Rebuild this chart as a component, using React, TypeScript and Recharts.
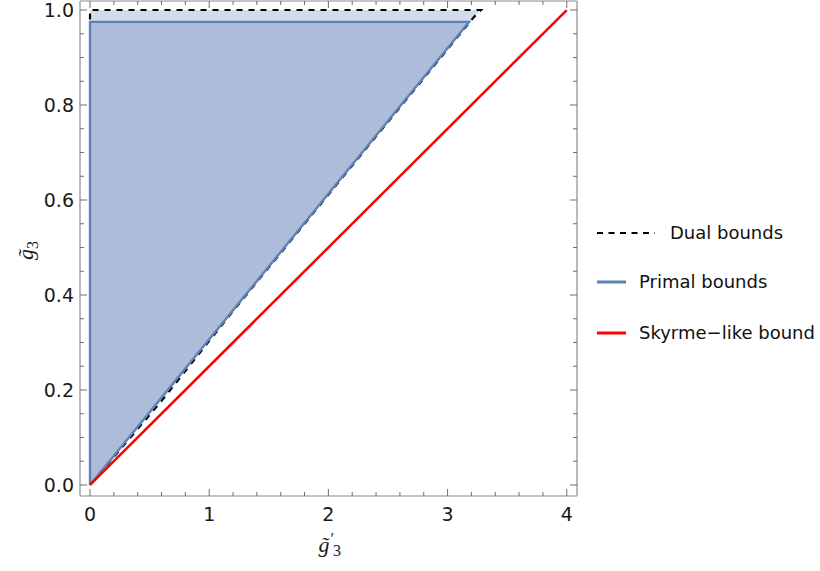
import React from 'react';
import { ComposedChart, Line, Area, XAxis, YAxis } from 'recharts';

// x values on the g3' axis, y values on the g3 axis
const xDomain = [-0.084, 4.086];
const yDomain = [-0.0232, 1.019];

const xMajorTicks = [0, 1, 2, 3, 4];
const xTicks = [0, 0.2, 0.4, 0.6, 0.8, 1, 1.2, 1.4, 1.6, 1.8, 2, 2.2, 2.4, 2.6, 2.8, 3, 3.2, 3.4, 3.6, 3.8, 4];
const yMajorTicks = [0, 0.2, 0.4, 0.6, 0.8, 1];
const yTicks = [0, 0.05, 0.1, 0.15, 0.2, 0.25, 0.3, 0.35, 0.4, 0.45, 0.5, 0.55, 0.6, 0.65, 0.7, 0.75, 0.8, 0.85, 0.9, 0.95, 1];

// dual bounds region (filled lightly) and its dashed outline
const dualRegion = [
  { x: 0, r: [0, 1] },
  { x: 0.6, r: [0.177, 1] },
  { x: 1.18, r: [0.36, 1] },
  { x: 3.22, r: [0.985, 1] },
  { x: 3.28, r: [1, 1] },
];
const dualOutline = [
  { x: 0, y: 0.98 },
  { x: 0, y: 1 },
  { x: 3.28, y: 1 },
  { x: 3.22, y: 0.985 },
  { x: 1.18, y: 0.36 },
  { x: 0.6, y: 0.177 },
  { x: 0, y: 0 },
];

// primal bounds triangle
const primalRegion = [
  { x: 0, r: [0, 0.975] },
  { x: 3.18, r: [0.975, 0.975] },
];
const primalOutline = [
  { x: 0, y: 0 },
  { x: 0, y: 0.975 },
  { x: 3.18, y: 0.975 },
  { x: 0, y: 0 },
];

// Skyrme-like bound
const skyrme = [
  { x: 0, y: 0 },
  { x: 4, y: 1 },
];

const FRAME = '#8c8c8c';
const TICK = '#6e6e6e';
const FONT = '"DejaVu Sans", sans-serif';

const BottomTick = (props: any) => {
  const { x, y, payload } = props;
  const major = xMajorTicks.includes(payload.value);
  return (
    <g>
      <line x1={x} y1={y} x2={x} y2={y - (major ? 7 : 4)} stroke={TICK} strokeWidth={1} />
      {major && (
        <text x={x} y={y + 25} textAnchor="middle" fontFamily={FONT} fontSize={19} fill="#1a1a1a">
          {payload.value}
        </text>
      )}
    </g>
  );
};

const TopTick = (props: any) => {
  const { x, y, payload } = props;
  const major = xMajorTicks.includes(payload.value);
  return <line x1={x} y1={y} x2={x} y2={y + (major ? 7 : 4)} stroke={TICK} strokeWidth={1} />;
};

const LeftTick = (props: any) => {
  const { x, y, payload } = props;
  const major = yMajorTicks.includes(payload.value);
  return (
    <g>
      <line x1={x} y1={y} x2={x + (major ? 7 : 4)} y2={y} stroke={TICK} strokeWidth={1} />
      {major && (
        <text x={x - 6} y={y + 7} textAnchor="end" fontFamily={FONT} fontSize={19} fill="#1a1a1a">
          {payload.value.toFixed(1)}
        </text>
      )}
    </g>
  );
};

const RightTick = (props: any) => {
  const { x, y, payload } = props;
  const major = yMajorTicks.includes(payload.value);
  return <line x1={x} y1={y} x2={x - (major ? 7 : 4)} y2={y} stroke={TICK} strokeWidth={1} />;
};

const XTitle = (props: any) => {
  const vb = props.viewBox;
  const cx = vb.x + vb.width / 2 - 10;
  return (
    <text x={cx} y={vb.y + 56} fontFamily='"Liberation Serif", serif' fontSize={22} fill="#1a1a1a">
      <tspan fontStyle="italic">g̃</tspan>
      <tspan dx={1} dy={-8} fontSize={16}>′</tspan>
      <tspan dx={-1} dy={12} fontSize={16}>3</tspan>
    </text>
  );
};

const YTitle = () => (
  <text
    x={0}
    y={0}
    transform="translate(33, 260) rotate(-90)"
    fontFamily='"Liberation Serif", serif'
    fontSize={22}
    fill="#1a1a1a"
  >
    <tspan fontStyle="italic">g̃</tspan>
    <tspan dy={5} fontSize={16}>3</tspan>
  </text>
);

const LegendRow = ({ color, dash, width, label, top, lineLen, textLeft }: any) => (
  <div style={{ position: 'absolute', left: 597, top: top - 12, height: 24, width: 230 }}>
    <svg width={lineLen} height={24} style={{ position: 'absolute', left: 0, top: 0 }}>
      <line x1={0} y1={12} x2={lineLen} y2={12} stroke={color} strokeWidth={width} strokeDasharray={dash} />
    </svg>
    <span
      style={{
        position: 'absolute',
        left: textLeft - 597,
        top: 0,
        lineHeight: '24px',
        fontFamily: FONT,
        fontSize: 18,
        color: '#111',
        whiteSpace: 'nowrap',
      }}
    >
      {label}
    </span>
  </div>
);

export default function App() {
  return (
    <div style={{ position: 'absolute', left: 0, top: 0, width: 820, height: 571, background: '#fff' }}>
      <ComposedChart width={820} height={571} margin={{ top: 0, right: 242, bottom: 74, left: 79 }}>
        <XAxis
          type="number"
          dataKey="x"
          domain={xDomain}
          allowDataOverflow
          ticks={xTicks}
          interval={0}
          height={1}
          tickSize={0}
          tickMargin={0}
          tickLine={false}
          tick={<BottomTick />}
          axisLine={{ stroke: FRAME, strokeWidth: 1.2 }}
          label={{ content: <XTitle /> }}
        />
        <XAxis
          xAxisId="top"
          orientation="top"
          type="number"
          dataKey="x"
          domain={xDomain}
          allowDataOverflow
          ticks={xTicks}
          interval={0}
          height={1}
          tickSize={0}
          tickMargin={0}
          tickLine={false}
          tick={<TopTick />}
          axisLine={{ stroke: FRAME, strokeWidth: 1.2 }}
        />
        <YAxis
          type="number"
          dataKey="y"
          domain={yDomain}
          allowDataOverflow
          ticks={yTicks}
          interval={0}
          width={1}
          tickSize={0}
          tickMargin={0}
          tickLine={false}
          tick={<LeftTick />}
          axisLine={{ stroke: FRAME, strokeWidth: 1.2 }}
        />
        <YAxis
          yAxisId="right"
          orientation="right"
          type="number"
          domain={yDomain}
          allowDataOverflow
          ticks={yTicks}
          interval={0}
          width={1}
          tickSize={0}
          tickMargin={0}
          tickLine={false}
          tick={<RightTick />}
          axisLine={{ stroke: FRAME, strokeWidth: 1.2 }}
        />
        <Area
          data={dualRegion}
          dataKey="r"
          type="linear"
          stroke="none"
          fill="#d3dcec"
          fillOpacity={1}
          isAnimationActive={false}
        />
        <Area
          data={primalRegion}
          dataKey="r"
          type="linear"
          stroke="none"
          fill="#adbdd9"
          fillOpacity={1}
          isAnimationActive={false}
        />
        <Line
          data={dualOutline}
          dataKey="y"
          type="linear"
          stroke="#000"
          strokeWidth={2.2}
          strokeDasharray="6 6"
          dot={false}
          isAnimationActive={false}
        />
        <Line
          data={primalOutline}
          dataKey="y"
          type="linear"
          stroke="#5e81b5"
          strokeWidth={2.4}
          dot={false}
          isAnimationActive={false}
        />
        <Line
          data={skyrme}
          dataKey="y"
          type="linear"
          stroke="#ff0000"
          strokeWidth={2.5}
          dot={false}
          isAnimationActive={false}
        />
        <YTitle />
      </ComposedChart>
      <LegendRow color="#000" dash="6 5.5" width={2} label="Dual bounds" top={233} lineLen={58} textLeft={670} />
      <LegendRow color="#5e81b5" width={3} label="Primal bounds" top={282} lineLen={29} textLeft={639} />
      <LegendRow color="#ff0000" width={3} label="Skyrme−like bound" top={333} lineLen={29} textLeft={639} />
    </div>
  );
}
